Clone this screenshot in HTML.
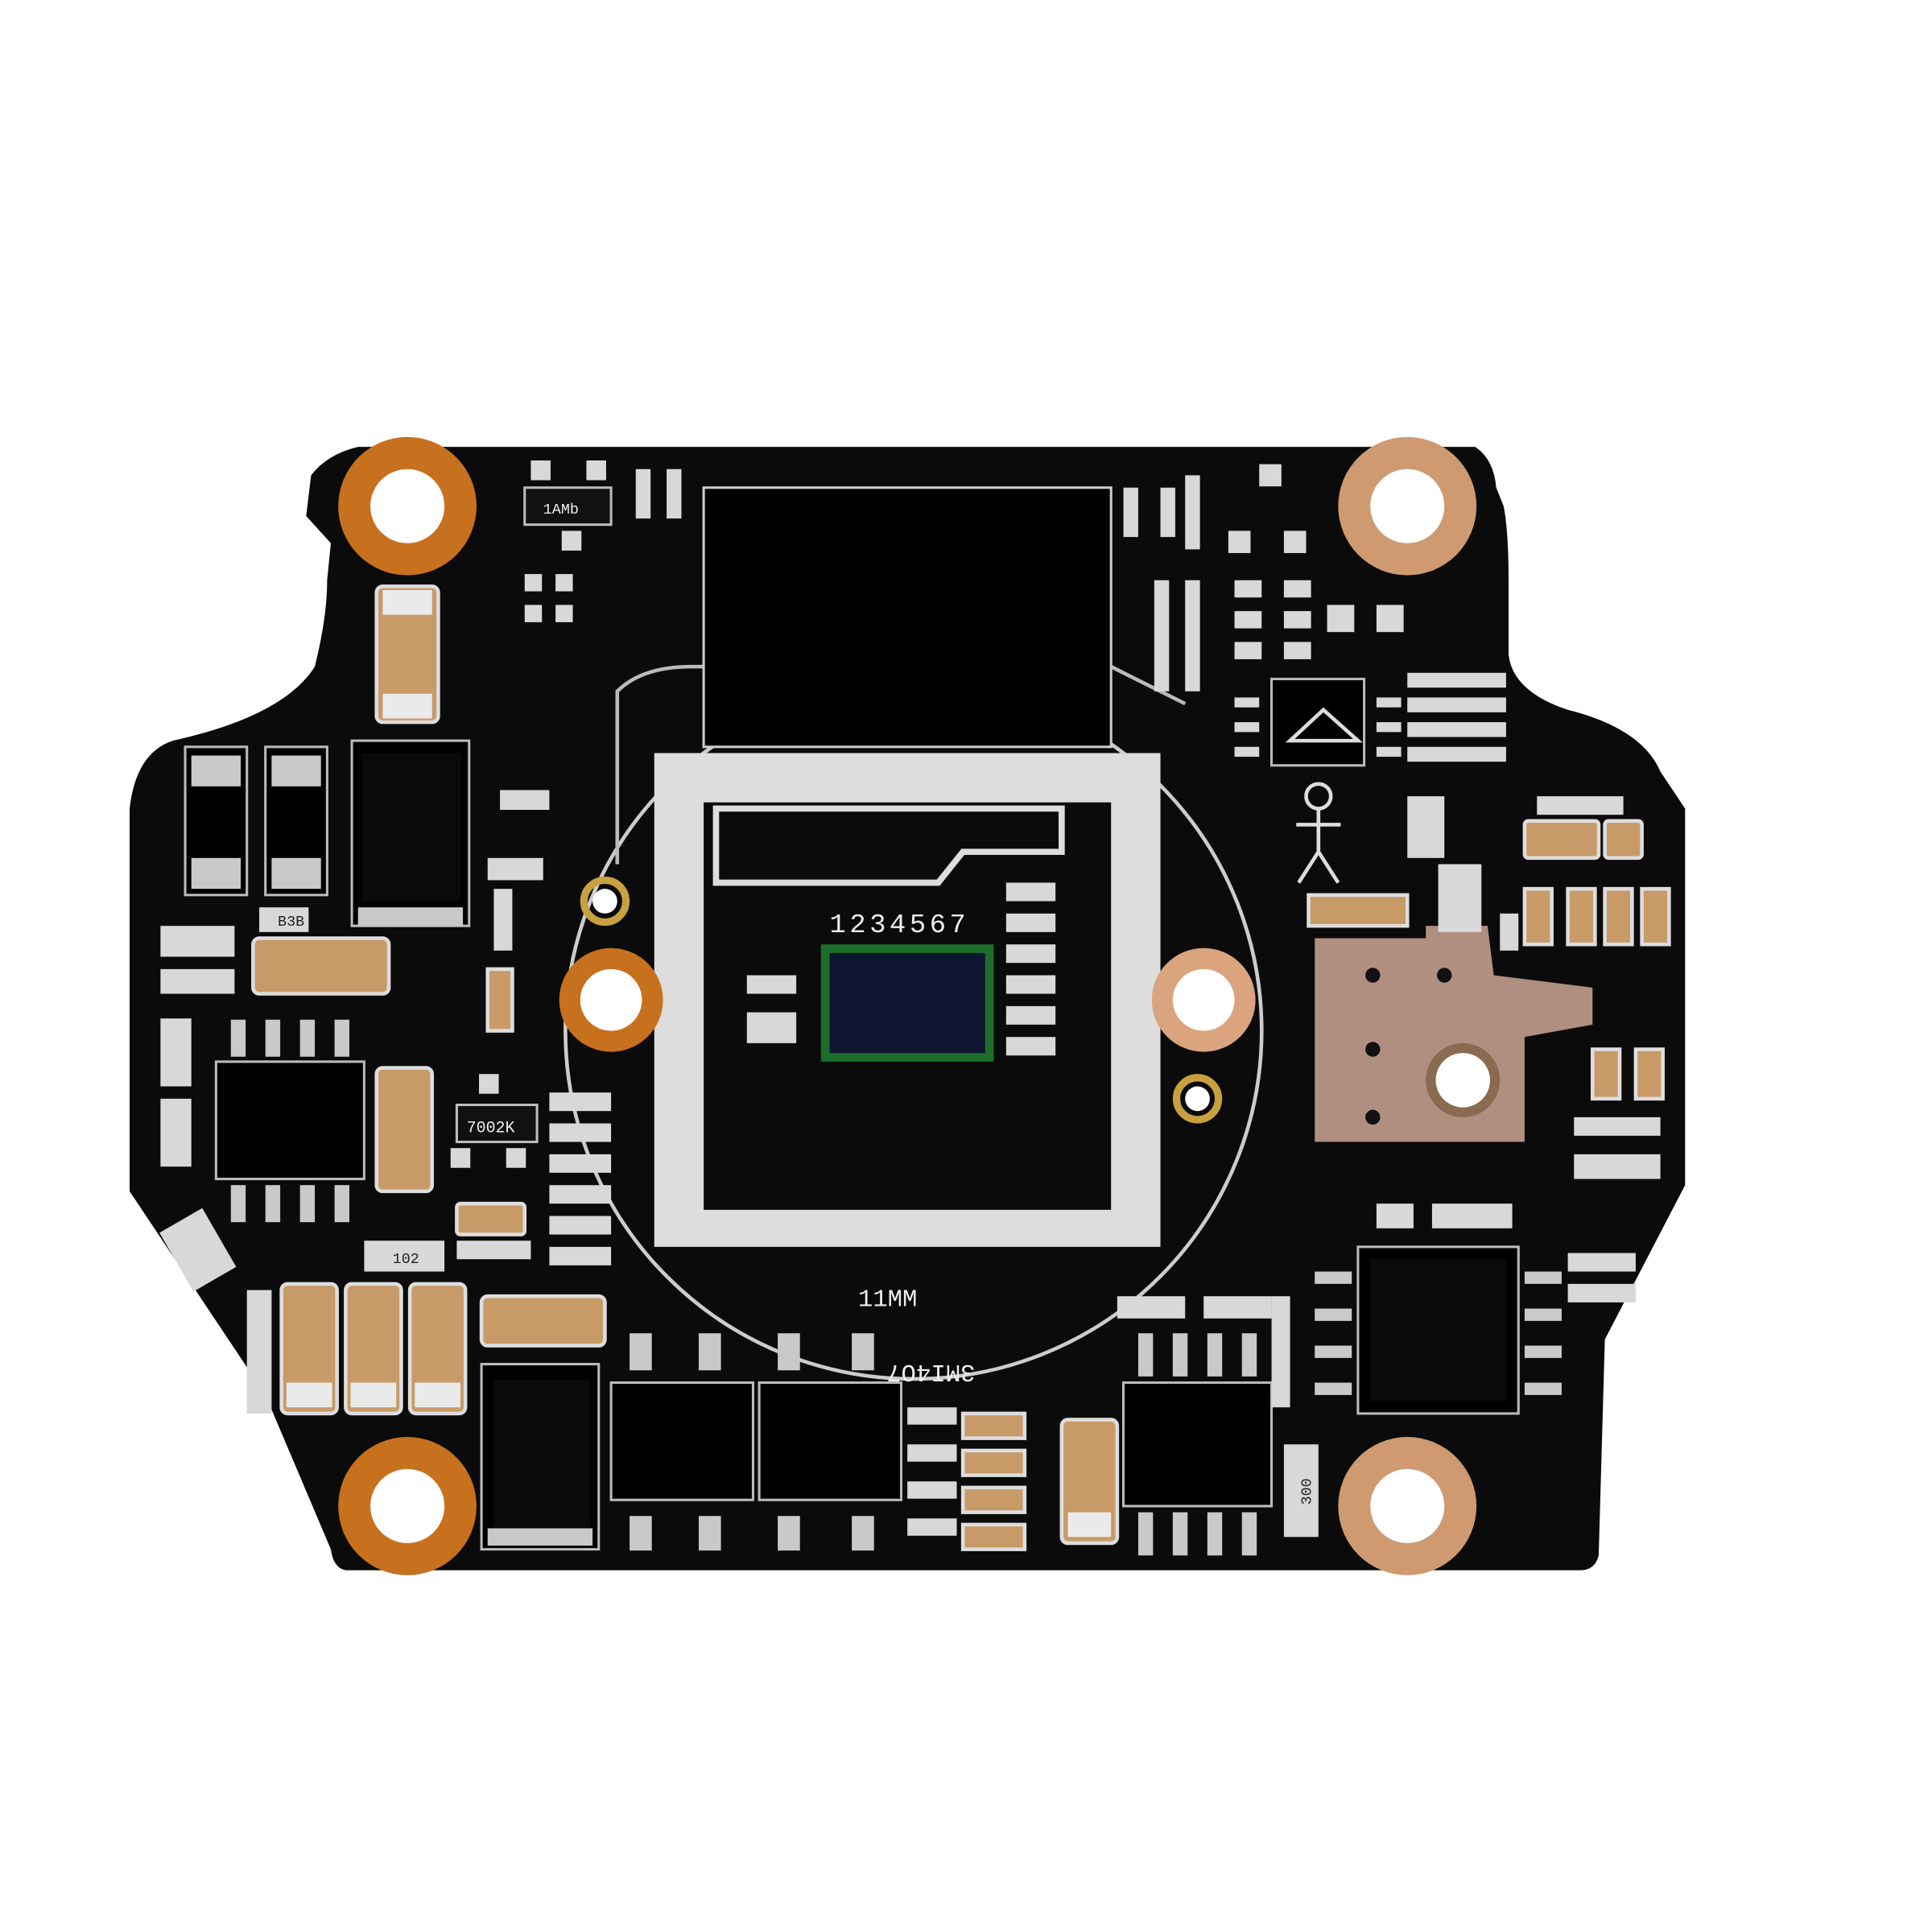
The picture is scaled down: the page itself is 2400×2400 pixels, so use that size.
<!DOCTYPE html>
<html><head><meta charset="utf-8"><style>
html,body{margin:0;padding:0;background:#fff}
svg{display:block}
text{font-family:"Liberation Mono",monospace;fill:#eee}
</style></head><body>
<svg width="2400" height="2400" viewBox="0 0 1565 1565" xmlns="http://www.w3.org/2000/svg">
<rect width="1565" height="1565" fill="#fff"/>
<!-- board -->
<path d="M290,362 L1195,362 Q1210,372 1212,395 L1218,410 Q1222,430 1222,470 L1222,530 Q1225,560 1270,575 Q1330,590 1345,625 L1365,655 L1365,960 L1300,1085 L1295,1260 Q1292,1272 1280,1272 L280,1272 Q270,1270 268,1255 L215,1130 L105,965 L105,655 Q110,610 140,600 Q230,580 255,540 Q265,500 265,470 L268,440 L248,418 L252,385 Q265,368 290,362 Z" fill="#0b0b0b"/>
<!-- big circle silkscreen -->
<circle cx="740" cy="835" r="282" fill="none" stroke="#ccc" stroke-width="3"/>
<path d="M500,700 L500,560 Q520,540 560,540 L600,540 L600,515 L870,515 L900,540 L960,570" fill="none" stroke="#bbb" stroke-width="3"/>
<!-- white lens holder square -->
<path d="M530,610 L940,610 L940,1010 L530,1010 Z M570,650 L570,980 L900,980 L900,650 Z" fill="#ddd" fill-rule="evenodd"/>
<path d="M580,655 L860,655 L860,690 L780,690 L760,715 L580,715 Z" fill="none" stroke="#ddd" stroke-width="5"/>
<!-- top black block -->
<rect x="570" y="395" width="330" height="210" fill="#000" stroke="#ccc" stroke-width="2"/>
<!-- mounting holes -->
<g fill="#c7701e">
<circle cx="330" cy="410" r="56"/><circle cx="1140" cy="410" r="56" fill="#cf9a70"/>
<circle cx="330" cy="1220" r="56"/><circle cx="1140" cy="1220" r="56" fill="#cf9a70"/>
<circle cx="495" cy="810" r="42"/><circle cx="975" cy="810" r="42" fill="#d9a47e"/>
</g>
<g fill="#fff">
<circle cx="330" cy="410" r="30"/><circle cx="1140" cy="410" r="30"/>
<circle cx="330" cy="1220" r="30"/><circle cx="1140" cy="1220" r="30"/>
<circle cx="495" cy="810" r="25"/><circle cx="975" cy="810" r="25"/>
<circle cx="490" cy="730" r="10"/><circle cx="970" cy="890" r="10"/>
</g>
<circle cx="490" cy="730" r="17" fill="none" stroke="#c8a040" stroke-width="6"/>
<circle cx="970" cy="890" r="17" fill="none" stroke="#c8a040" stroke-width="6"/>
<!-- sensor -->
<rect x="665" y="765" width="140" height="95" fill="#1d6e2a"/>
<rect x="672" y="772" width="126" height="81" fill="#0d1530"/>
<text x="672" y="755" font-size="22" letter-spacing="3">1234567</text>
<text x="695" y="1058" font-size="20">11MM</text>
<text x="730" y="1120" font-size="20" transform="rotate(180 760 1113)">3MI4O7</text>
<!-- metal plate right -->
<path d="M1065,760 L1155,760 L1155,750 L1205,750 L1210,790 L1290,800 L1290,830 L1235,840 L1235,925 L1065,925 Z" fill="#b08f80"/>
<circle cx="1185" cy="875" r="30" fill="#8a6a50"/><circle cx="1185" cy="875" r="22" fill="#fff"/>
<g fill="#111"><circle cx="1112" cy="790" r="6"/><circle cx="1112" cy="850" r="6"/><circle cx="1112" cy="905" r="6"/><circle cx="1170" cy="790" r="6"/></g>
<!-- ICs -->
<g fill="#000" stroke="#bbb" stroke-width="2">
<rect x="175" y="860" width="120" height="95"/>
<rect x="910" y="1120" width="120" height="100"/>
<rect x="1100" y="1010" width="130" height="135"/>
<rect x="285" y="600" width="95" height="150"/>
<rect x="390" y="1105" width="95" height="150"/>
<rect x="495" y="1120" width="115" height="95"/>
<rect x="615" y="1120" width="115" height="95"/>
<rect x="150" y="605" width="50" height="120"/>
<rect x="215" y="605" width="50" height="120"/>
<rect x="1030" y="550" width="75" height="70"/>
</g>
<g fill="#0a0a0a"><rect x="1110" y="1020" width="110" height="115"/><rect x="293" y="610" width="80" height="120"/><rect x="400" y="1118" width="78" height="120"/></g>
<!-- IC pins -->
<g fill="#c9c9c9">
<rect x="187" y="826" width="12" height="30"/><rect x="215" y="826" width="12" height="30"/><rect x="243" y="826" width="12" height="30"/><rect x="271" y="826" width="12" height="30"/>
<rect x="187" y="960" width="12" height="30"/><rect x="215" y="960" width="12" height="30"/><rect x="243" y="960" width="12" height="30"/><rect x="271" y="960" width="12" height="30"/>
<rect x="922" y="1080" width="12" height="35"/><rect x="950" y="1080" width="12" height="35"/><rect x="978" y="1080" width="12" height="35"/><rect x="1006" y="1080" width="12" height="35"/>
<rect x="922" y="1225" width="12" height="35"/><rect x="950" y="1225" width="12" height="35"/><rect x="978" y="1225" width="12" height="35"/><rect x="1006" y="1225" width="12" height="35"/>
<rect x="1065" y="1030" width="30" height="10"/><rect x="1065" y="1060" width="30" height="10"/><rect x="1065" y="1090" width="30" height="10"/><rect x="1065" y="1120" width="30" height="10"/>
<rect x="1235" y="1030" width="30" height="10"/><rect x="1235" y="1060" width="30" height="10"/><rect x="1235" y="1090" width="30" height="10"/><rect x="1235" y="1120" width="30" height="10"/>
<rect x="510" y="1080" width="18" height="30"/><rect x="566" y="1080" width="18" height="30"/><rect x="630" y="1080" width="18" height="30"/><rect x="690" y="1080" width="18" height="30"/>
<rect x="510" y="1228" width="18" height="28"/><rect x="566" y="1228" width="18" height="28"/><rect x="630" y="1228" width="18" height="28"/><rect x="690" y="1228" width="18" height="28"/>
<rect x="155" y="612" width="40" height="25"/><rect x="155" y="695" width="40" height="25"/>
<rect x="220" y="612" width="40" height="25"/><rect x="220" y="695" width="40" height="25"/>
<rect x="290" y="735" width="85" height="15"/><rect x="395" y="1238" width="85" height="14"/>
</g>
<!-- tan capacitors -->
<g fill="#c79a68" stroke="#ddd" stroke-width="3">
<rect x="305" y="475" width="50" height="110" rx="5"/>
<rect x="205" y="760" width="110" height="45" rx="5"/>
<rect x="305" y="865" width="45" height="100" rx="5"/>
<rect x="228" y="1040" width="45" height="105" rx="5"/>
<rect x="280" y="1040" width="45" height="105" rx="5"/>
<rect x="332" y="1040" width="45" height="105" rx="5"/>
<rect x="390" y="1050" width="100" height="40" rx="5"/>
<rect x="860" y="1150" width="45" height="100" rx="5"/>
<rect x="370" y="975" width="55" height="25" rx="3"/>
<rect x="1235" y="665" width="60" height="30" rx="3"/>
<rect x="1300" y="665" width="30" height="30" rx="3"/>
<rect x="1235" y="720" width="22" height="45"/><rect x="1270" y="720" width="22" height="45"/><rect x="1300" y="720" width="22" height="45"/><rect x="1330" y="720" width="22" height="45"/>
<rect x="1290" y="850" width="22" height="40"/><rect x="1325" y="850" width="22" height="40"/>
<rect x="1060" y="725" width="80" height="25"/>
<rect x="395" y="785" width="20" height="50"/>
<rect x="780" y="1145" width="50" height="20"/><rect x="780" y="1175" width="50" height="20"/><rect x="780" y="1205" width="50" height="20"/><rect x="780" y="1235" width="50" height="20"/>
</g>
<g fill="#eaeaea">
<rect x="310" y="478" width="40" height="20"/><rect x="310" y="562" width="40" height="20"/>
<rect x="232" y="1120" width="37" height="20"/><rect x="284" y="1120" width="37" height="20"/><rect x="336" y="1120" width="37" height="20"/>
<rect x="865" y="1225" width="35" height="20"/>
</g>
<!-- small SMD pads -->
<g fill="#d8d8d8">
<rect x="425" y="465" width="14" height="14"/><rect x="450" y="465" width="14" height="14"/><rect x="425" y="490" width="14" height="14"/><rect x="450" y="490" width="14" height="14"/>
<rect x="515" y="380" width="12" height="40"/><rect x="540" y="380" width="12" height="40"/>
<rect x="910" y="395" width="12" height="40"/><rect x="940" y="395" width="12" height="40"/><rect x="960" y="385" width="12" height="60"/>
<rect x="935" y="470" width="12" height="90"/><rect x="960" y="470" width="12" height="90"/>
<rect x="1000" y="470" width="22" height="14"/><rect x="1040" y="470" width="22" height="14"/><rect x="1000" y="495" width="22" height="14"/><rect x="1040" y="495" width="22" height="14"/>
<rect x="1000" y="520" width="22" height="14"/><rect x="1040" y="520" width="22" height="14"/>
<rect x="1075" y="490" width="22" height="22"/><rect x="1115" y="490" width="22" height="22"/>
<rect x="1140" y="545" width="80" height="12"/><rect x="1140" y="565" width="80" height="12"/><rect x="1140" y="585" width="80" height="12"/><rect x="1140" y="605" width="80" height="12"/>
<rect x="1000" y="565" width="20" height="8"/><rect x="1000" y="585" width="20" height="8"/><rect x="1000" y="605" width="20" height="8"/>
<rect x="1115" y="565" width="20" height="8"/><rect x="1115" y="585" width="20" height="8"/><rect x="1115" y="605" width="20" height="8"/>
<rect x="1140" y="645" width="30" height="50"/><rect x="1165" y="700" width="35" height="55"/>
<rect x="405" y="640" width="40" height="16"/><rect x="395" y="695" width="45" height="18"/><rect x="400" y="720" width="15" height="50"/>
<rect x="130" y="750" width="60" height="25"/><rect x="130" y="785" width="60" height="20"/><rect x="210" y="735" width="40" height="20"/>
<rect x="130" y="825" width="25" height="55"/><rect x="130" y="890" width="25" height="55"/>
<rect x="140" y="985" width="40" height="55" transform="rotate(-30 160 1012)"/>
<rect x="295" y="1005" width="65" height="25"/><rect x="200" y="1045" width="20" height="100"/>
<rect x="445" y="885" width="50" height="15"/><rect x="445" y="910" width="50" height="15"/><rect x="445" y="935" width="50" height="15"/><rect x="445" y="960" width="50" height="15"/><rect x="445" y="985" width="50" height="15"/><rect x="445" y="1010" width="50" height="15"/>
<rect x="370" y="1005" width="60" height="15"/>
<rect x="815" y="715" width="40" height="15"/><rect x="815" y="740" width="40" height="15"/><rect x="815" y="765" width="40" height="15"/><rect x="815" y="790" width="40" height="15"/><rect x="815" y="815" width="40" height="15"/><rect x="815" y="840" width="40" height="15"/>
<rect x="605" y="790" width="40" height="15"/><rect x="605" y="820" width="40" height="25"/>
<rect x="735" y="1140" width="40" height="14"/><rect x="735" y="1170" width="40" height="14"/><rect x="735" y="1200" width="40" height="14"/><rect x="735" y="1230" width="40" height="14"/>
<rect x="905" y="1050" width="55" height="18"/><rect x="975" y="1050" width="55" height="18"/>
<rect x="1030" y="1050" width="15" height="90"/><rect x="1040" y="1170" width="28" height="75"/>
<rect x="1115" y="975" width="30" height="20"/><rect x="1160" y="975" width="65" height="20"/>
<rect x="1270" y="1015" width="55" height="15"/><rect x="1270" y="1040" width="55" height="15"/>
<rect x="1275" y="905" width="70" height="15"/><rect x="1275" y="935" width="70" height="20"/>
<rect x="1215" y="740" width="15" height="30"/><rect x="1245" y="645" width="70" height="15"/>
<rect x="1020" y="376" width="18" height="18"/><rect x="995" y="430" width="18" height="18"/><rect x="1040" y="430" width="18" height="18"/>
<rect x="430" y="373" width="16" height="16"/><rect x="475" y="373" width="16" height="16"/><rect x="455" y="430" width="16" height="16"/>
<rect x="388" y="870" width="16" height="16"/><rect x="365" y="930" width="16" height="16"/><rect x="410" y="930" width="16" height="16"/>
</g>
<rect x="425" y="395" width="70" height="30" fill="#111" stroke="#bbb" stroke-width="2"/>
<rect x="370" y="895" width="65" height="30" fill="#111" stroke="#bbb" stroke-width="2"/>
<text x="440" y="416" font-size="12">1AMb</text>
<text x="378" y="917" font-size="13">7002K</text>
<text x="318" y="1023" font-size="12" fill="#222" style="fill:#222">102</text>
<text x="225" y="750" font-size="12" style="fill:#222">B3B</text>
<text x="1045" y="1218" font-size="12" style="fill:#222" transform="rotate(-90 1054 1210)">300</text>
<!-- stick figure -->
<g stroke="#ddd" stroke-width="3" fill="none">
<circle cx="1068" cy="645" r="10"/><path d="M1068,655 L1068,690 M1050,668 L1086,668 M1068,690 L1052,715 M1068,690 L1084,715"/>
<path d="M1045,600 L1100,600 L1072,575 Z"/>
</g>
</svg>
</body></html>
